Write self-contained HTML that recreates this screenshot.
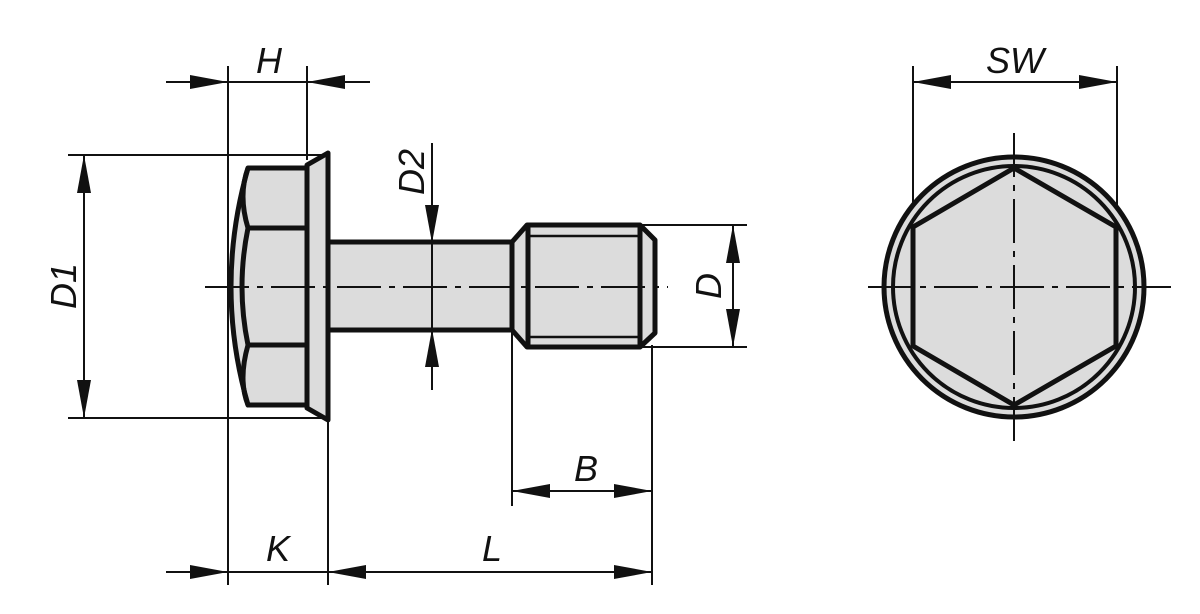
<!DOCTYPE html>
<html><head><meta charset="utf-8"><style>
html,body{margin:0;padding:0;background:#fff;}
svg{display:block;}
text{font-family:"Liberation Sans",sans-serif;font-style:italic;font-size:36px;fill:#111;}
</style></head><body>
<svg width="1200" height="614" viewBox="0 0 1200 614" xmlns="http://www.w3.org/2000/svg">
<defs>
<marker id="a" viewBox="0 0 38 14" refX="38" refY="7" markerWidth="38" markerHeight="14" markerUnits="userSpaceOnUse" orient="auto"><path d="M0,0 L38,7 L0,14 Z" fill="#111"/></marker>
</defs>
<g stroke="#111" fill="none" stroke-width="2">
<line x1="228" y1="66" x2="228" y2="585"/>
<line x1="307" y1="66" x2="307" y2="160"/>
<line x1="328" y1="420" x2="328" y2="585"/>
<line x1="652" y1="345" x2="652" y2="585"/>
<line x1="512" y1="330" x2="512" y2="506"/>
<line x1="68" y1="155" x2="325" y2="155"/>
<line x1="68" y1="418" x2="325" y2="418"/>
<line x1="640" y1="225" x2="747" y2="225"/>
<line x1="640" y1="347" x2="747" y2="347"/>
<line x1="913" y1="66" x2="913" y2="235"/>
<line x1="1117" y1="66" x2="1117" y2="235"/>
</g>
<g stroke="#111" stroke-width="5" fill="#dcdcdc" stroke-linejoin="round">
<path d="M248,168 L307,168 L307,405 L248,405 Q214,287 248,168 Z"/>
<path d="M307,165 L328,153 L328,420 L307,408 Z"/>
<path d="M328,242 L512,242 L512,330 L328,330 Z"/>
<path d="M512,242 L527,225 L640,225 L655,240 L655,333 L640,347 L527,347 L512,330 Z"/>
<circle cx="1014" cy="287" r="130"/>
<circle cx="1014" cy="287" r="121" stroke-width="4"/>
<path d="M1014,168 L1116,227 L1116,346 L1014,405 L913,346 L913,227 Z"/>
</g>
<g stroke="#111" stroke-width="5" fill="none">
<line x1="248" y1="228" x2="307" y2="228"/>
<line x1="248" y1="345" x2="307" y2="345"/>
<path d="M248,168 Q238,195 248,228 Q236,287 248,345 Q238,380 248,405"/>
<line x1="528" y1="225" x2="528" y2="347"/>
<line x1="640" y1="225" x2="640" y2="347"/>
<line x1="528" y1="236" x2="640" y2="236" stroke-width="2.5"/>
<line x1="528" y1="337" x2="640" y2="337" stroke-width="2.5"/>
</g>
<g stroke="#111" stroke-width="2" fill="none" stroke-dasharray="44,8,6,8">
<line x1="205" y1="287" x2="668" y2="287"/>
<line x1="868" y1="287" x2="1171" y2="287"/>
<line x1="1014" y1="133" x2="1014" y2="443"/>
</g>
<g stroke="#111" stroke-width="2" fill="none">
<line x1="166" y1="82" x2="228" y2="82" marker-end="url(#a)"/>
<line x1="370" y1="82" x2="307" y2="82" marker-end="url(#a)"/>
<line x1="228" y1="82" x2="307" y2="82"/>
<line x1="84" y1="287" x2="84" y2="155" marker-end="url(#a)"/>
<line x1="84" y1="287" x2="84" y2="418" marker-end="url(#a)"/>
<line x1="432" y1="143" x2="432" y2="243" marker-end="url(#a)"/>
<line x1="432" y1="390" x2="432" y2="329" marker-end="url(#a)"/>
<line x1="432" y1="243" x2="432" y2="329"/>
<line x1="733" y1="286" x2="733" y2="225" marker-end="url(#a)"/>
<line x1="733" y1="286" x2="733" y2="347" marker-end="url(#a)"/>
<line x1="1014" y1="82" x2="913" y2="82" marker-end="url(#a)"/>
<line x1="1014" y1="82" x2="1117" y2="82" marker-end="url(#a)"/>
<line x1="582" y1="491" x2="512" y2="491" marker-end="url(#a)"/>
<line x1="582" y1="491" x2="652" y2="491" marker-end="url(#a)"/>
<line x1="166" y1="572" x2="228" y2="572" marker-end="url(#a)"/>
<line x1="228" y1="572" x2="328" y2="572"/>
<line x1="490" y1="572" x2="328" y2="572" marker-end="url(#a)"/>
<line x1="490" y1="572" x2="652" y2="572" marker-end="url(#a)"/>
</g>
<text x="256" y="73">H</text>
<text x="1015" y="73" text-anchor="middle">SW</text>
<text x="586" y="481" text-anchor="middle">B</text>
<text x="278" y="561" text-anchor="middle">K</text>
<text x="492" y="561" text-anchor="middle">L</text>
<text transform="translate(76,286) rotate(-90)" text-anchor="middle">D1</text>
<text transform="translate(424,172) rotate(-90)" text-anchor="middle">D2</text>
<text transform="translate(721,286) rotate(-90)" text-anchor="middle">D</text>
</svg>
</body></html>
